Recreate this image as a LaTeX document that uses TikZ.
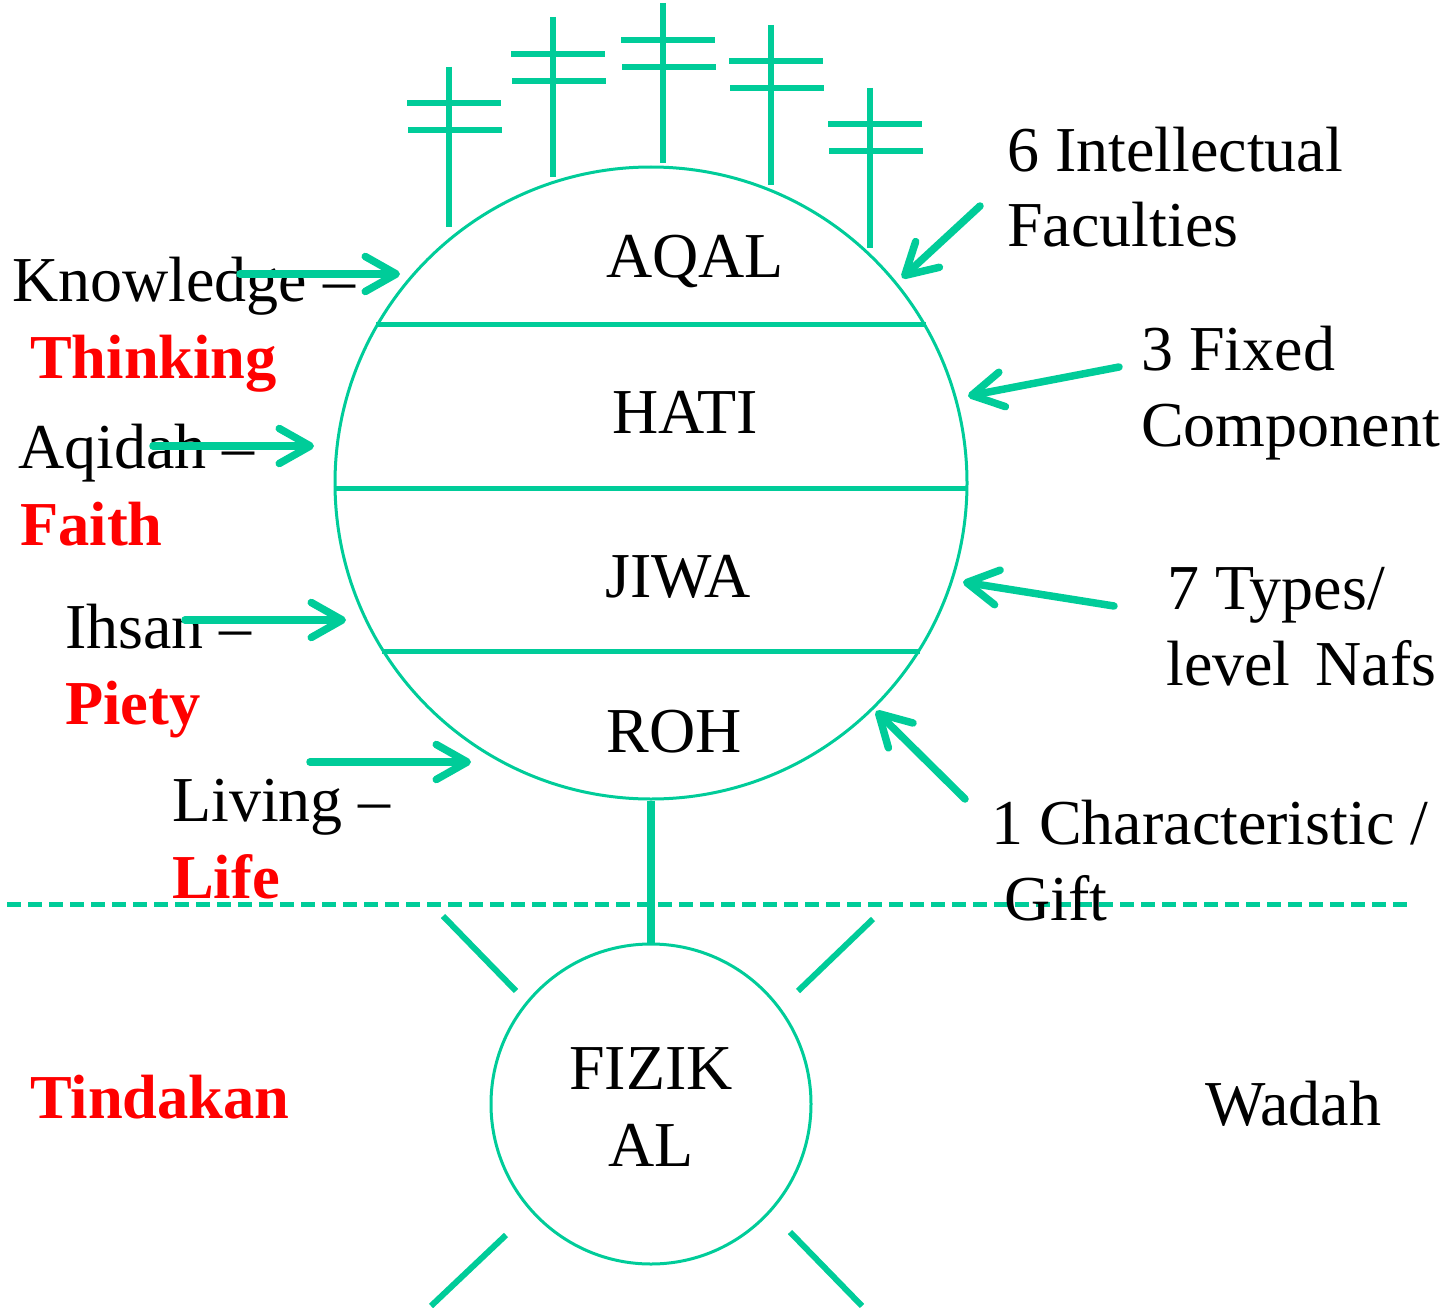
\documentclass[tikz,border=0pt]{standalone}
\usepackage{fontspec}
\setmainfont{Liberation Serif}
\usetikzlibrary{arrows.meta}
\definecolor{grn}{RGB}{0,204,153}
\definecolor{rd}{RGB}{255,0,0}
\begin{document}
\begin{tikzpicture}[x=1pt,y=-1pt,
  lbl/.style={inner sep=0pt, anchor=base west, font=\fontsize{64}{76}\selectfont},
  redlbl/.style={lbl, text=rd, font=\fontsize{62.5}{76}\selectfont\bfseries},
  ctr/.style={inner sep=0pt, anchor=base, font=\fontsize{64}{76}\selectfont},
  ptr/.style={draw=grn, line width=7.5pt, line cap=round, -{Straight Barb[length=31pt,width=35pt,round]}},
  divline/.style={draw=grn, line width=5pt},
  crossline/.style={draw=grn, line width=6pt},
  ray/.style={draw=grn, line width=6pt},
  ring/.style={circle, draw=grn, line width=3pt, inner sep=0pt}
]
\useasboundingbox (0,0) rectangle (1440,1308);

% dashed boundary
\coordinate (dl) at (7,904);
\coordinate (dr) at (1410,904);
\draw[draw=grn, line width=5pt, dash pattern=on 14pt off 7pt] (dl) -- (dr);

% circles
\node[ring, minimum size=632pt] (big) at (651,483) {};
\node[ring, minimum size=320pt] (small) at (651,1104) {};

% divisions
\draw[divline] (big.150) -- (big.30);
\draw[divline] (big.181) -- (big.-1);
\draw[divline] (big.-148) -- (big.-32);

% connector
\draw[draw=grn, line width=8pt] (big.south) -- (small.north);

% crosses
\foreach \x/\yt/\yb/\ba/\bb in {449/67/227/103/130, 553/17/177/54/81, 663/3/163/40/67, 771/25/185/61/88, 870/88/248/124/151}{
  \draw[crossline] (\x,\yt) -- (\x,\yb);
  \draw[crossline] (\x-42,\ba) -- (\x+52,\ba);
  \draw[crossline] (\x-41,\bb) -- (\x+53,\bb);
}

% rays
\coordinate (ra1) at (443,916); \coordinate (ra2) at (516,991);
\coordinate (rb1) at (873,919); \coordinate (rb2) at (798,991);
\coordinate (rc1) at (506,1235); \coordinate (rc2) at (431,1306);
\coordinate (rd1) at (790,1232); \coordinate (rd2) at (862,1306);
\draw[ray] (ra1) -- (ra2);
\draw[ray] (rb1) -- (rb2);
\draw[ray] (rc1) -- (rc2);
\draw[ray] (rd1) -- (rd2);

% circle texts
\node[ctr] (aqal) at (695,277) {AQAL};
\node[ctr] (hati) at (685,433) {HATI};
\node[ctr] (jiwa) at (678,597) {JIWA};
\node[ctr] (roh) at (674,752) {ROH};
\node[ctr] (fizik) at (651,1089) {FIZIK};
\node[ctr] (al) at (651,1166) {AL};

% left texts
\node[lbl] (k1) at (12,301) {Knowledge –};
\node[redlbl] (k2) at (30,378) {Thinking};
\node[lbl] (q1) at (18,468) {Aqidah –};
\node[redlbl] (q2) at (20,545) {Faith};
\node[lbl] (i1) at (65,648) {Ihsan –};
\node[redlbl] (i2) at (65,724) {Piety};
\node[lbl] (l1) at (172,821) {Living –};
\node[redlbl] (l2) at (172,898) {Life};
\node[redlbl] (tind) at (30,1118) {Tindakan};

% right texts
\node[lbl] (r1) at (1007,172) {6 Intellectual};
\node[lbl] (r2) at (1007,247) {Faculties};
\node[lbl] (f1) at (1141,370) {3 Fixed};
\node[lbl] (f2) at (1141,446) {Component};
\node[lbl] (t1) at (1167,609) {7 Types/};
\node[lbl] (t2) at (1166,685) {level\hspace{25pt}Nafs};
\node[lbl] (c1) at (991,844) {1 Characteristic /};
\node[lbl] (c2) at (1004,920) {Gift};
\node[lbl] (wadah) at (1205,1125) {Wadah};

% arrows
\coordinate (a1s) at (240,274); \coordinate (a1e) at (400,274);
\coordinate (a2s) at (153,446); \coordinate (a2e) at (314,446);
\coordinate (a3s) at (185,620); \coordinate (a3e) at (346,620);
\coordinate (a4s) at (310,762); \coordinate (a4e) at (471,762);
\coordinate (a5s) at (980,206); \coordinate (a5e) at (902,278);
\coordinate (a6s) at (1119,367); \coordinate (a6e) at (968,396);
\coordinate (a7s) at (1114,606); \coordinate (a7e) at (963,582);
\coordinate (a8s) at (965,799); \coordinate (a8e) at (876,711);
\draw[ptr] (a1s) -- (a1e);
\draw[ptr] (a2s) -- (a2e);
\draw[ptr] (a3s) -- (a3e);
\draw[ptr] (a4s) -- (a4e);
\draw[ptr] (a5s) -- (a5e);
\draw[ptr] (a6s) -- (a6e);
\draw[ptr] (a7s) -- (a7e);
\draw[ptr] (a8s) -- (a8e);
\end{tikzpicture}
\end{document}
